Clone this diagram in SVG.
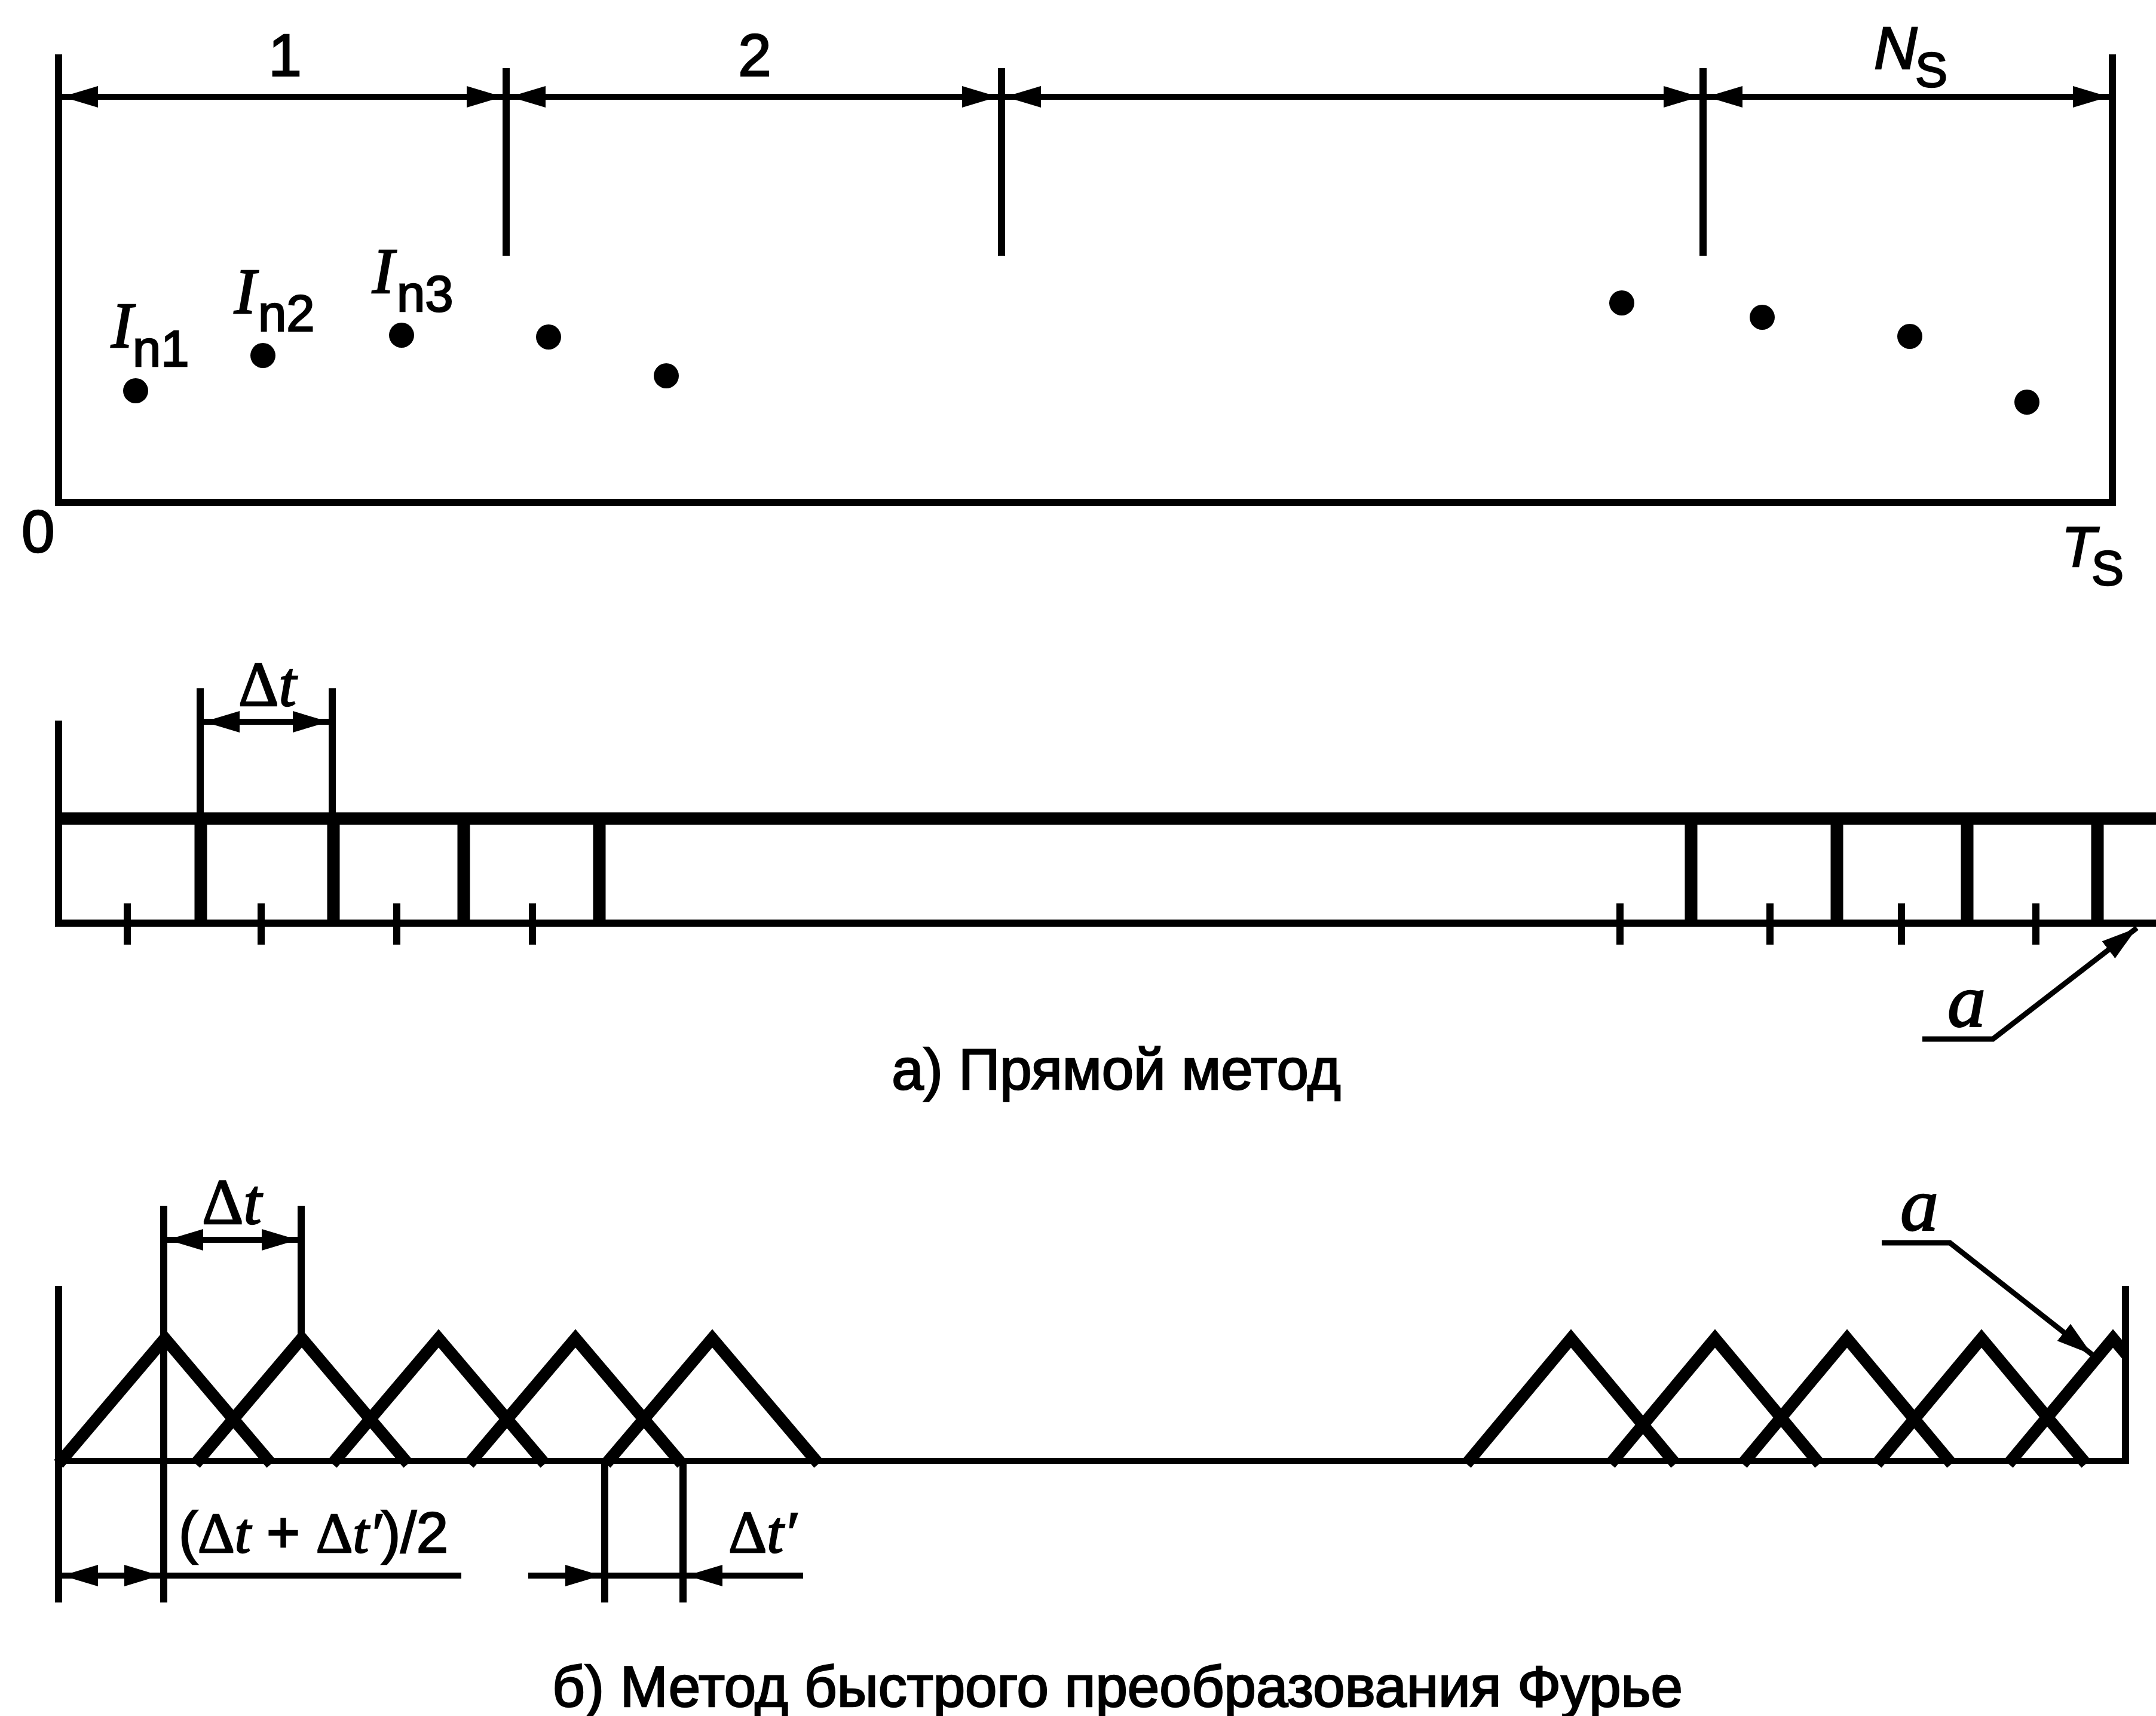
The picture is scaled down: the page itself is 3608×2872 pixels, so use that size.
<svg xmlns="http://www.w3.org/2000/svg" width="3608" height="2872" viewBox="0 0 3608 2872">
<style>
.ln{stroke:#000;stroke-width:12;fill:none}
.dim{stroke:#000;stroke-width:10;fill:none}
.thk{stroke:#000;stroke-width:21;fill:none}
.tri{stroke:#000;stroke-width:20;fill:none;stroke-linejoin:miter;stroke-miterlimit:10}
.ldr{stroke:#000;stroke-width:9;fill:none}
.sans{font-family:"Liberation Sans",Arial,sans-serif;fill:#000;stroke:#000;stroke-width:2.5}
.serif{font-family:"Liberation Serif","Times New Roman",serif;fill:#000;stroke:#000;stroke-width:2.5}
.it{font-style:italic}
</style>
<defs>
<marker id="ah" viewBox="0 0 60 36" refX="60" refY="18" markerWidth="60" markerHeight="36" markerUnits="userSpaceOnUse" orient="auto-start-reverse">
<path d="M0,0 L60,18 L0,36 z" fill="#000"/>
</marker>
<clipPath id="clipR"><rect x="0" y="0" width="3562" height="2872"/></clipPath>
</defs>
<rect x="0" y="0" width="3608" height="2872" fill="#fff"/>

<g id="panel-top">
<path class="ln" d="M98,91 V841 H3535 V91"/>
<line class="ln" x1="847" y1="114" x2="847" y2="428"/>
<line class="ln" x1="1676" y1="114" x2="1676" y2="428"/>
<line class="ln" x1="2850" y1="114" x2="2850" y2="428"/>
<g id="dots">
<circle cx="227" cy="654" r="21"/>
<circle cx="440" cy="595" r="21"/>
<circle cx="672" cy="561" r="21"/>
<circle cx="918" cy="564" r="21"/>
<circle cx="1115" cy="629" r="21"/>
<circle cx="2714" cy="507" r="21"/>
<circle cx="2949" cy="531" r="21"/>
<circle cx="3196" cy="563" r="21"/>
<circle cx="3392" cy="673" r="21"/>
</g>
<text class="sans" x="477" y="127" font-size="100" text-anchor="middle">1</text>
<text class="sans" x="1263" y="127" font-size="100" text-anchor="middle">2</text>
<text class="sans it" x="3136" y="115" font-size="100">N</text>
<text class="sans" x="3205" y="145" font-size="81">S</text>
<text class="sans" x="36" y="924" font-size="100">0</text>
<text class="sans it" x="3450" y="948" font-size="94">T</text>
<text class="sans" x="3500" y="979" font-size="81">S</text>
<text class="serif it" x="186" y="581" font-size="109">I</text>
<text class="sans" x="222" y="613" font-size="85">n1</text>
<text class="serif it" x="392" y="524" font-size="109">I</text>
<text class="sans" x="432" y="554" font-size="85">n2</text>
<text class="serif it" x="623" y="490" font-size="109">I</text>
<text class="sans" x="664" y="521" font-size="85">n3</text>
</g>

<g id="panel-a">
<line x1="92" y1="1370" x2="3608" y2="1370" stroke="#000" stroke-width="21"/>
<line class="ln" x1="92" y1="1545" x2="3608" y2="1545"/>
<line class="ln" x1="98" y1="1206" x2="98" y2="1551"/>
<line class="ln" x1="335" y1="1152" x2="335" y2="1370"/>
<line class="ln" x1="556" y1="1152" x2="556" y2="1370"/>
<g id="a-bars">
<line class="thk" x1="336" y1="1370" x2="336" y2="1545"/>
<line class="thk" x1="558" y1="1370" x2="558" y2="1545"/>
<line class="thk" x1="776" y1="1370" x2="776" y2="1545"/>
<line class="thk" x1="1003" y1="1370" x2="1003" y2="1545"/>
<line class="thk" x1="2830" y1="1370" x2="2830" y2="1545"/>
<line class="thk" x1="3074" y1="1370" x2="3074" y2="1545"/>
<line class="thk" x1="3292" y1="1370" x2="3292" y2="1545"/>
<line class="thk" x1="3510" y1="1370" x2="3510" y2="1545"/>
</g>
<g id="a-ticks">
<line class="ln" x1="213" y1="1512" x2="213" y2="1581"/>
<line class="ln" x1="437" y1="1512" x2="437" y2="1581"/>
<line class="ln" x1="664" y1="1512" x2="664" y2="1581"/>
<line class="ln" x1="891" y1="1512" x2="891" y2="1581"/>
<line class="ln" x1="2711" y1="1512" x2="2711" y2="1581"/>
<line class="ln" x1="2962" y1="1512" x2="2962" y2="1581"/>
<line class="ln" x1="3182" y1="1512" x2="3182" y2="1581"/>
<line class="ln" x1="3407" y1="1512" x2="3407" y2="1581"/>
</g>
<text class="serif" x="399" y="1181" font-size="105">Δ<tspan class="it">t</tspan></text>
<text class="serif it" x="3259" y="1718" font-size="128">a</text>
<text class="sans" x="1868" y="1823" font-size="96" text-anchor="middle">а) Прямой метод</text>
</g>

<g id="panel-b">
<line class="dim" x1="92" y1="2445" x2="3562" y2="2445"/>
<line class="ln" x1="98" y1="2152" x2="98" y2="2682"/>
<line class="ln" x1="3557" y1="2152" x2="3557" y2="2450"/>
<line class="ln" x1="274" y1="2018" x2="274" y2="2682"/>
<line class="ln" x1="504" y1="2018" x2="504" y2="2232"/>
<line class="ln" x1="1012" y1="2445" x2="1012" y2="2682"/>
<line class="ln" x1="1143" y1="2445" x2="1143" y2="2682"/>
<g id="b-triangles-left">
<polyline class="tri" points="98,2450 276,2240 454,2450"/>
<polyline class="tri" points="327,2450 505,2240 683,2450"/>
<polyline class="tri" points="556,2450 734,2240 912,2450"/>
<polyline class="tri" points="785,2450 963,2240 1141,2450"/>
<polyline class="tri" points="1014,2450 1192,2240 1370,2450"/>
</g>
<g id="b-triangles-right" clip-path="url(#clipR)">
<polyline class="tri" points="2454,2450 2629,2240 2804,2450"/>
<polyline class="tri" points="2695,2450 2870,2240 3045,2450"/>
<polyline class="tri" points="2916,2450 3091,2240 3266,2450"/>
<polyline class="tri" points="3141,2450 3316,2240 3491,2450"/>
<polyline class="tri" points="3361,2450 3536,2240 3711,2450"/>
</g>
<text class="serif" x="338" y="2048" font-size="108">Δ<tspan class="it">t</tspan></text>
<text class="serif it" x="3180" y="2059" font-size="128">a</text>
<text x="299" y="2598" font-size="96"><tspan class="sans">(</tspan><tspan class="serif">Δ</tspan><tspan class="serif it">t</tspan><tspan class="sans"> + </tspan><tspan class="serif">Δ</tspan><tspan class="serif it">t′</tspan><tspan class="sans">)/2</tspan></text>
<text class="serif" x="1219" y="2598" font-size="100">Δ<tspan class="it">t′</tspan></text>
<text class="sans" x="1870" y="2856" font-size="96" text-anchor="middle">б) Метод быстрого преобразования Фурье</text>
</g>

<g id="connectors">
<line class="dim" x1="104" y1="162" x2="841" y2="162" marker-start="url(#ah)" marker-end="url(#ah)"/>
<line class="dim" x1="853" y1="162" x2="1670" y2="162" marker-start="url(#ah)" marker-end="url(#ah)"/>
<line class="dim" x1="1682" y1="162" x2="2844" y2="162" marker-start="url(#ah)" marker-end="url(#ah)"/>
<line class="dim" x1="2856" y1="162" x2="3529" y2="162" marker-start="url(#ah)" marker-end="url(#ah)"/>
<line class="dim" x1="341" y1="1208" x2="550" y2="1208" marker-start="url(#ah)" marker-end="url(#ah)"/>
<polyline class="ldr" points="3217,1739 3335,1739 3576,1553" marker-end="url(#ah)"/>
<line class="dim" x1="280" y1="2075" x2="498" y2="2075" marker-start="url(#ah)" marker-end="url(#ah)"/>
<line class="dim" x1="104" y1="2637" x2="268" y2="2637" marker-start="url(#ah)" marker-end="url(#ah)"/>
<line class="dim" x1="274" y1="2637" x2="772" y2="2637"/>
<line class="dim" x1="884" y1="2637" x2="1006" y2="2637" marker-end="url(#ah)"/>
<line class="dim" x1="1012" y1="2637" x2="1143" y2="2637"/>
<line class="dim" x1="1344" y1="2637" x2="1149" y2="2637" marker-end="url(#ah)"/>
<polyline class="ldr" points="3149,2080 3263,2080 3501,2267" marker-end="url(#ah)"/>
</g>
</svg>
